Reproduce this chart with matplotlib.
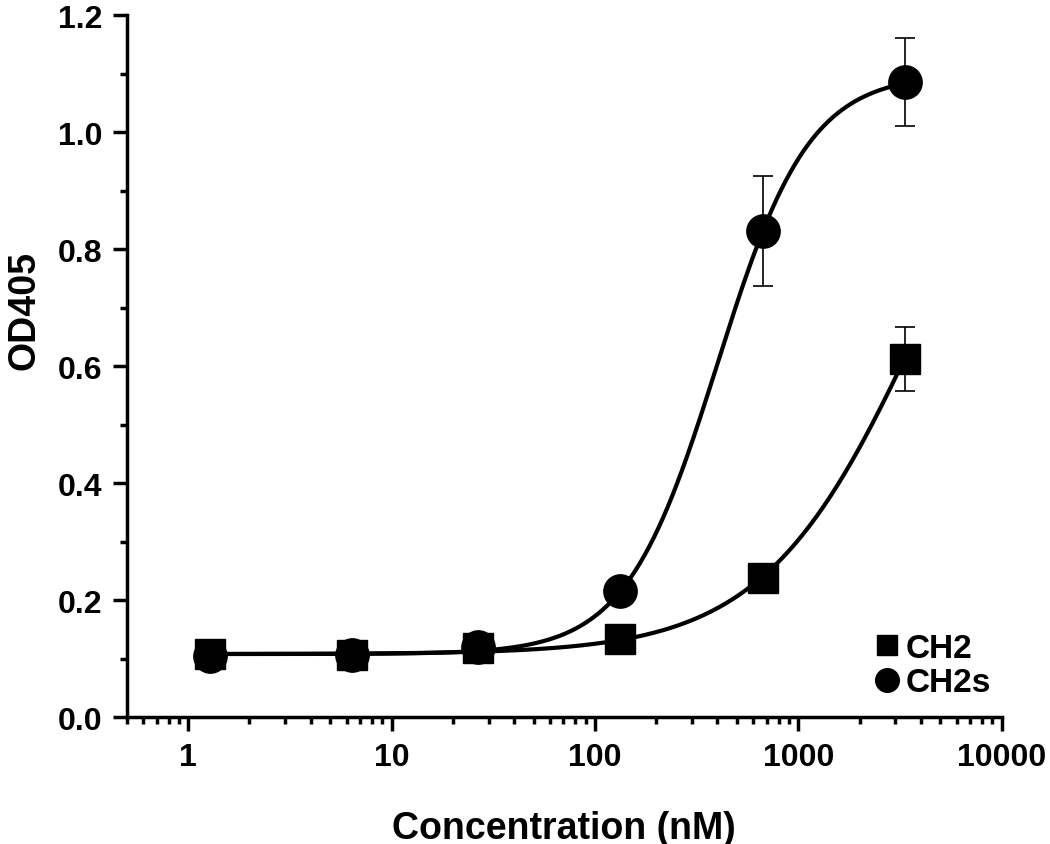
import numpy as np
import matplotlib
matplotlib.use('Agg')
import matplotlib.pyplot as plt
from matplotlib.ticker import LogLocator, FixedLocator, FixedFormatter, NullFormatter

plt.rcParams['font.family'] = ['Liberation Sans', 'DejaVu Sans']
plt.rcParams['font.weight'] = 'bold'

# data
conc = [1.28, 6.4, 26.7, 133, 667, 3333]
ch2 = [0.108, 0.107, 0.118, 0.133, 0.238, 0.612]
ch2_err = [0.0, 0.0, 0.0, 0.0, 0.0, 0.055]
ch2s = [0.104, 0.106, 0.120, 0.216, 0.831, 1.085]
ch2s_err = [0.0, 0.0, 0.0, 0.0, 0.094, 0.075]

# 4PL fit parameters (bottom, top, EC50, hill)
ch2_fit = [0.108, 1.25, 4100, 1.12]
ch2s_fit = [0.108, 1.10, 400, 1.92]

xtick_vals = [1, 10, 100, 1000, 10000]
xtick_labels = ['1', '10', '100', '1000', '10000']
ytick_vals = [0.0, 0.2, 0.4, 0.6, 0.8, 1.0, 1.2]
ytick_labels = ['0.0', '0.2', '0.4', '0.6', '0.8', '1.0', '1.2']


def logistic(x, p):
    b, t, ec50, h = p
    return b + (t - b) / (1 + (ec50 / x) ** h)


fig = plt.figure(figsize=(10.5, 8.45), dpi=100)
ax = fig.add_axes([0.121, 0.150, 0.833, 0.831])

xs = np.logspace(np.log10(conc[0]), np.log10(conc[-1]), 300)
ax.plot(xs, logistic(xs, ch2_fit), color='black', lw=3, zorder=2)
ax.plot(xs, logistic(xs, ch2s_fit), color='black', lw=3, zorder=2)

ax.errorbar(conc, ch2, yerr=ch2_err, fmt='none', ecolor='black',
            elinewidth=1.2, capsize=7, capthick=1.2, zorder=3)
ax.errorbar(conc, ch2s, yerr=ch2s_err, fmt='none', ecolor='black',
            elinewidth=1.2, capsize=7, capthick=1.2, zorder=3)

ax.plot(conc, ch2, 's', color='black', ms=21, zorder=4)
ax.plot(conc, ch2s, 'o', color='black', ms=24, zorder=5)

# legend handles (smaller markers than on the plot)
h1, = ax.plot([], [], 's', color='black', ms=14, label='CH2')
h2, = ax.plot([], [], 'o', color='black', ms=17, label='CH2s')
ax.legend(handles=[h1, h2], loc='upper left', bbox_to_anchor=(0.852, 0.12),
          frameon=False, fontsize=24, handletextpad=0.1, labelspacing=0.1,
          handlelength=0.9, borderaxespad=0, borderpad=0)

ax.set_xscale('log')
ax.set_xlim(0.5, 10000)
ax.set_ylim(0, 1.2)
ax.xaxis.set_major_locator(FixedLocator(xtick_vals))
ax.xaxis.set_major_formatter(FixedFormatter(xtick_labels))
ax.xaxis.set_minor_locator(LogLocator(base=10, subs=np.arange(2, 10)))
ax.xaxis.set_minor_formatter(NullFormatter())
ax.set_yticks(ytick_vals)
ax.set_yticklabels(ytick_labels)
ax.set_yticks([0.1, 0.3, 0.5, 0.7, 0.9, 1.1], minor=True)

for s in ['top', 'right']:
    ax.spines[s].set_visible(False)
for s in ['left', 'bottom']:
    ax.spines[s].set_linewidth(2.5)

ax.tick_params(which='major', direction='out', length=10, width=2.5,
               labelsize=23, pad=8)
ax.tick_params(which='minor', direction='out', length=5, width=2.5)

ax.set_xlabel('Concentration (nM)', fontsize=27, fontweight='bold', labelpad=27)
ax.set_ylabel('OD405', fontsize=27, fontweight='bold')
ax.yaxis.set_label_coords(-0.097, 0.58)

fig.savefig('out.png', dpi=100)
